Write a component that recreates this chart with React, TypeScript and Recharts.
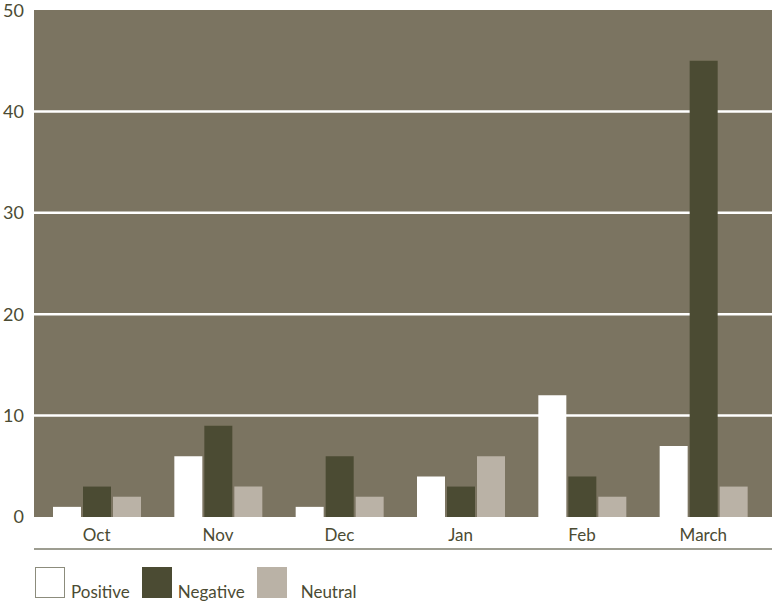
import React from "react";
import { BarChart, Bar, XAxis, YAxis, CartesianGrid, Legend } from "recharts";

const months = ["Oct", "Nov", "Dec", "Jan", "Feb", "March"];
const positive = [1, 6, 1, 4, 12, 7];
const negative = [3, 9, 6, 3, 4, 45];
const neutral = [2, 3, 2, 6, 2, 3];
const yTicks = [0, 10, 20, 30, 40, 50];
const gridTicks = [10, 20, 30, 40];

const data = months.map((m, i) => ({
  month: m,
  Positive: positive[i],
  Negative: negative[i],
  Neutral: neutral[i],
}));

const FONT = "Lato, 'DejaVu Sans', sans-serif";
const TEXT = "#4b4b33";
const BG = "#7b7461";

const series = [
  { key: "Positive", color: "#ffffff", border: "#8c8c7c", textGap: 6 },
  { key: "Negative", color: "#4b4b33", border: "#4b4b33", textGap: 6 },
  { key: "Neutral", color: "#bab2a6", border: "#bab2a6", textGap: 14 },
];

const LegendContent = () => (
  <div style={{ display: "flex", alignItems: "flex-end", fontFamily: FONT, fontSize: 17, color: TEXT }}>
    {series.map((s, i) => (
      <div key={s.key} style={{ display: "flex", alignItems: "flex-end", marginLeft: i === 0 ? 0 : 12 }}>
        <div
          style={{
            width: 28,
            height: 29,
            background: s.color,
            border: `1px solid ${s.border}`,
          }}
        />
        <span style={{ marginLeft: s.textGap, lineHeight: "17px", marginBottom: -2 }}>{s.key}</span>
      </div>
    ))}
  </div>
);

export default function App() {
  return (
    <div style={{ position: "absolute", left: 0, top: 0, background: "#fff" }}>
      <BarChart
        width={777}
        height={605}
        data={data}
        margin={{ top: 10, right: 5, left: 0, bottom: 55 }}
        barGap={2}
        barSize={28}
      >
        <CartesianGrid
          vertical={false}
          horizontalValues={gridTicks}
          stroke="#ffffff"
          strokeWidth={2.5}
          fill={BG}
          fillOpacity={1}
        />
        <YAxis
          domain={[0, 50]}
          ticks={yTicks}
          width={34}
          axisLine={false}
          tickLine={false}
          tickSize={0}
          tickMargin={10}
          tick={{ fill: TEXT, fontSize: 18, fontFamily: FONT }}
        />
        <XAxis
          dataKey="month"
          height={32}
          padding={{ left: 2, right: 8 }}
          axisLine={false}
          tickLine={false}
          tickSize={0}
          tickMargin={12}
          tick={{ fill: TEXT, fontSize: 17, fontFamily: FONT }}
        />
        <XAxis
          xAxisId="line"
          dataKey="month"
          height={1}
          tick={false}
          tickLine={false}
          axisLine={{ stroke: "#7d7d6c", strokeWidth: 1.5 }}
        />
        <Legend
          verticalAlign="middle"
          layout="horizontal"
          content={<LegendContent />}
          wrapperStyle={{ top: 567, left: 35, width: 500 }}
        />
        {series.map((s) => (
          <Bar key={s.key} dataKey={s.key} fill={s.color} isAnimationActive={false} />
        ))}
      </BarChart>
    </div>
  );
}
